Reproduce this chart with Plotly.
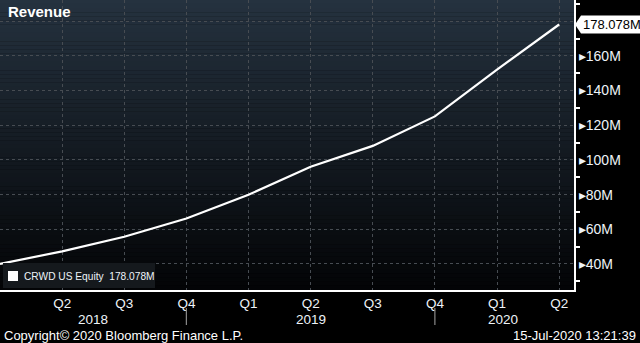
import plotly.graph_objects as go

# ---- data ----
quarters = ["Q1", "Q2", "Q3", "Q4", "Q1", "Q2", "Q3", "Q4", "Q1", "Q2"]
years = ["2018", "2018", "2018", "2018", "2019", "2019", "2019", "2019", "2020", "2020"]
revenue_m = [40.0, 47.3, 55.7, 66.2, 79.9, 96.1, 108.1, 125.1, 152.1, 178.078]
y_major = [40, 60, 80, 100, 120, 140, 160, 180]
y_minor = [30, 50, 70, 90, 110, 130, 150, 170, 190]
year_labels = ["2018", "2019", "2020"]
year_label_pos = [1.5, 5.0, 8.1]
year_separators = [3, 7]
series_name = "CRWD US Equity"
title = "Revenue"

W, H = 640, 343
L, R, T, B = 0, 66, 0, 53
PW, PH = W - L - R, H - T - B

xs = list(range(len(revenue_m)))
NARROW = "Liberation Sans Narrow, Arial Narrow, Liberation Sans, Arial, sans-serif"
REG = "Liberation Sans, Arial, sans-serif"
TXT = "#eef3f8"

fig = go.Figure()
fig.add_trace(go.Scatter(x=xs, y=revenue_m, mode="lines",
                         line=dict(color="white", width=2.2),
                         hoverinfo="skip", showlegend=False))

shapes = []
# vertical gradient background of plot area
n = 70
top = (37, 50, 63)
bot = (3, 4, 6)
for i in range(n):
    f = (i + 0.5) / n
    c = tuple(round(top[k] + (bot[k] - top[k]) * f) for k in range(3))
    shapes.append(dict(type="rect", xref="paper", yref="paper",
                       x0=0, x1=1, y0=1 - (i + 1) / n, y1=1 - i / n + 0.001,
                       fillcolor="rgb(%d,%d,%d)" % c, line=dict(width=0), layer="below"))

def px_x(p):
    return p / PW

def px_y(p):
    return 1 - p / PH

# year separators below axis
for s in year_separators:
    shapes.append(dict(type="line", xref="x", yref="paper", x0=s, x1=s,
                       y0=px_y(308), y1=px_y(325),
                       line=dict(color="#8a8a8a", width=1.2)))

# legend box
shapes.append(dict(type="rect", xref="paper", yref="paper",
                   x0=px_x(3), x1=px_x(155), y0=px_y(288), y1=px_y(263),
                   fillcolor="#15191d", line=dict(width=0), layer="above"))
shapes.append(dict(type="rect", xref="paper", yref="paper",
                   x0=px_x(8), x1=px_x(18), y0=px_y(281), y1=px_y(271),
                   fillcolor="white", line=dict(width=0), layer="above"))

# last value label (arrow box)
last = revenue_m[-1]
ppm = PH / (192.2 - 25.0)
hh = 9 / ppm
x_tip, x_b, x_r = px_x(575), px_x(581), px_x(641)
path = "M %f,%f L %f,%f L %f,%f L %f,%f L %f,%f Z" % (
    x_tip, last, x_b, last + hh, x_r, last + hh, x_r, last - hh, x_b, last - hh)
shapes.append(dict(type="path", xref="paper", yref="y", path=path,
                   fillcolor="white", line=dict(width=0), layer="above"))

annotations = [
    dict(text="<b>%s</b>" % title, xref="paper", yref="paper", x=px_x(6), y=px_y(12),
         xanchor="left", yanchor="middle", showarrow=False,
         font=dict(family=REG, size=15, color="white")),
    dict(text="%s\u00a0 %.3fM" % (series_name, last), xref="paper", yref="paper",
         x=px_x(22), y=px_y(276), xanchor="left", yanchor="middle", showarrow=False,
         font=dict(family=REG, size=10.2, color=TXT)),
    dict(text="%.3fM" % last, xref="paper", yref="y", x=px_x(581), y=last,
         xanchor="left", yanchor="middle", showarrow=False,
         font=dict(family=NARROW, size=13, color="black")),
    dict(text="Copyright\u00a9 2020 Bloomberg Finance L.P.", xref="paper", yref="paper",
         x=px_x(2), y=px_y(335), xanchor="left", yanchor="middle", showarrow=False,
         font=dict(family=REG, size=13, color="white")),
    dict(text="15-Jul-2020 13:21:39", xref="paper", yref="paper",
         x=px_x(638), y=px_y(335), xanchor="right", yanchor="middle", showarrow=False,
         font=dict(family=REG, size=13, color="white")),
]
for lab, pos in zip(year_labels, year_label_pos):
    annotations.append(dict(text=lab, xref="x", yref="paper", x=pos, y=px_y(319),
                            xanchor="center", yanchor="middle", showarrow=False,
                            font=dict(family=NARROW, size=13.5, color=TXT)))

ytext = ["\u25b8%dM" % v if v != 180 else "" for v in y_major]

fig.update_layout(
    width=W, height=H,
    margin=dict(l=L, r=R, t=T, b=B, pad=0),
    paper_bgcolor="black", plot_bgcolor="black",
    shapes=shapes, annotations=annotations,
    showlegend=False,
    xaxis=dict(range=[0, PW / 62.125], tickmode="array",
               tickvals=xs[1:], ticktext=quarters[1:],
               showgrid=True, gridcolor="#474c52", griddash="3px,3px", gridwidth=1,
               showline=True, linecolor="white", linewidth=2,
               ticks="", zeroline=False,
               tickfont=dict(family=NARROW, size=13.5, color=TXT)),
    yaxis=dict(range=[25.0, 192.2], side="right", tickmode="array",
               tickvals=y_major, ticktext=ytext,
               showgrid=True, gridcolor="#474c52", griddash="3px,3px", gridwidth=1,
               showline=True, linecolor="white", linewidth=2,
               ticks="", zeroline=False,
               minor=dict(tickmode="array", tickvals=y_minor, ticks="outside",
                          ticklen=4, tickcolor="white", tickwidth=1.5, showgrid=False),
               tickfont=dict(family=NARROW, size=14, color=TXT)),
)

fig.write_html("out.html")
